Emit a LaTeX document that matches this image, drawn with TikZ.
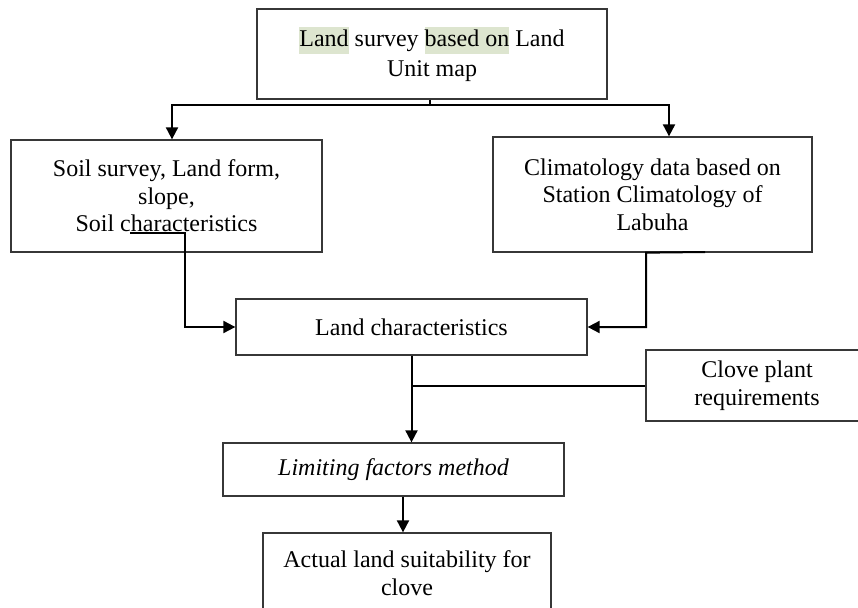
\documentclass[tikz,border=0pt]{standalone}
\usepackage{fontspec}
\setmainfont{Liberation Serif}
\usetikzlibrary{arrows.meta,calc}
\definecolor{hlgreen}{RGB}{221,229,207}
\definecolor{boxgray}{RGB}{55,55,55}
\newcommand{\hlword}[1]{{\setlength{\fboxsep}{0pt}\colorbox{hlgreen}{\strut #1}}}
\tikzset{
  box/.style={draw=boxgray, line width=1.3pt, inner sep=0pt, align=center,
    font=\fontsize{24}{27.6}\selectfont, text=black},
  conn/.style={draw=black, line width=2pt},
  arr/.style={conn, -{Triangle[length=12pt,width=12pt]}}
}
\begin{document}
\begin{tikzpicture}[x=1pt,y=-1pt]
\useasboundingbox (0,0) rectangle (858,607);
\clip (0,0) rectangle (858,607);
\node[box, minimum width=350pt, minimum height=90pt] (top) at (432,54)
  {\hlword{Land} survey \hlword{based on} Land\\[2.5pt]Unit map};
\node[box, minimum width=311pt, minimum height=112pt] (soil) at (166.5,196)
  {Soil survey, Land form,\\slope,\\Soil characteristics};
\node[box, minimum width=319pt, minimum height=115pt] (clim) at (652.5,194.5)
  {Climatology data based on\\Station Climatology of\\Labuha};
\node[box, minimum width=351pt, minimum height=56pt] (land) at (411.5,327)
  {Land characteristics};
\node[box, minimum width=222pt, minimum height=71pt] (clove) at (757,385.5)
  {Clove plant\\requirements};
\node[box, minimum width=341pt, minimum height=53pt] (lim) at (393.5,469.5)
  {\itshape Limiting factors method};
\node[box, minimum width=288pt, minimum height=80pt] (act) at (407,573)
  {Actual land suitability for\\clove};
% top split
\coordinate (j) at ($(top.south)+(-2,5)$);
\draw[conn] ([xshift=-2pt]top.south) -- (j);
\draw[arr] (j) -| ([xshift=5.5pt]soil.north);
\draw[arr] (j) -| ([xshift=16.5pt]clim.north);
% soil to land
\coordinate (s1) at (130,233);
\draw[arr] (s1) -- (185,233) |- (land.west);
% climate to land
\coordinate (c1) at (705,252);
\draw[arr] (c1) -- ([xshift=-6.5pt]clim.south) |- (land.east);
% land to limiting
\draw[arr] (land.south) -- (land.south |- lim.north);
% clove requirement joins
\draw[conn] (clove.west) -- (clove.west -| land.south);
% limiting to actual
\draw[arr] ([xshift=9.5pt]lim.south) -- ([xshift=9.5pt]lim.south |- act.north);
\end{tikzpicture}
\end{document}
